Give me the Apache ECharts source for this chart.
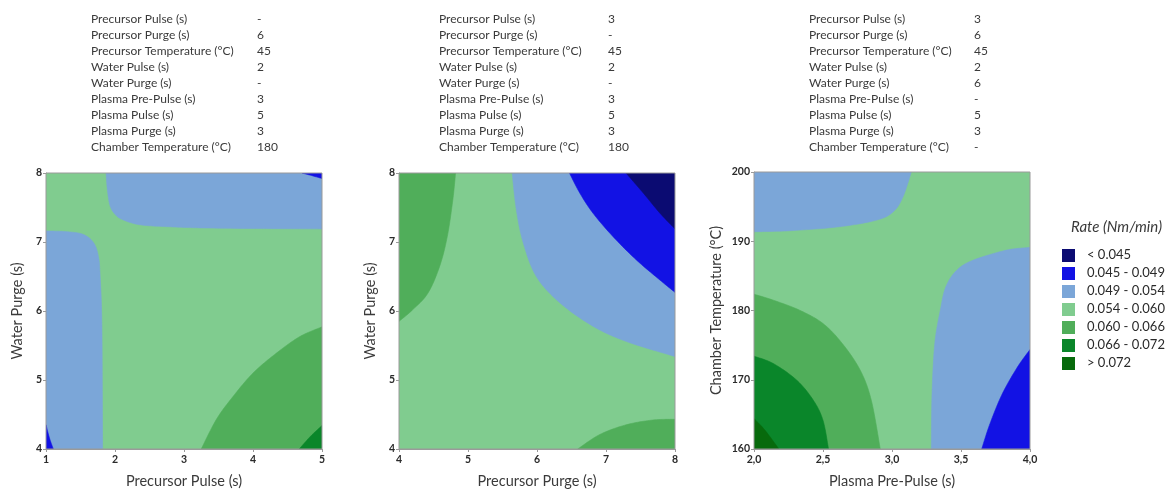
<!DOCTYPE html>
<html><head><meta charset="utf-8">
<script src="https://cdn.jsdelivr.net/npm/echarts@6/dist/echarts.min.js"></script>
<style>html,body{margin:0;padding:0;background:#fff}#c{width:1168px;height:489px}</style>
</head><body><div id="c"></div>
<script>
// ---------- data ----------
const levelLabels = ['< 0.045','0.045 - 0.049','0.049 - 0.054','0.054 - 0.060','0.060 - 0.066','0.066 - 0.072','> 0.072'];
const levelColors = ['#0b0b72','#1212e4','#7ba6d8','#80cc8f','#50ae5a','#0a862a','#076a0c'];
const legendTitle = 'Rate (Nm/min)';

const paramNames = ['Precursor Pulse (s)','Precursor Purge (s)','Precursor Temperature (°C)','Water Pulse (s)','Water Purge (s)','Plasma Pre-Pulse (s)','Plasma Pulse (s)','Plasma Purge (s)','Chamber Temperature (°C)'];
const fixedValues1 = ['-','6','45','2','-','3','5','3','180'];
const fixedValues2 = ['3','-','45','2','-','3','5','3','180'];
const fixedValues3 = ['3','6','45','2','6','-','5','3','-'];

const xNames = ['Precursor Pulse (s)','Precursor Purge (s)','Plasma Pre-Pulse (s)'];
const yNames = ['Water Purge (s)','Water Purge (s)','Chamber Temperature (°C)'];
const xTicks1 = ['1','2','3','4','5'];
const yTicks1 = ['4','5','6','7','8'];
const xTicks2 = ['4','5','6','7','8'];
const yTicks2 = ['4','5','6','7','8'];
const xTicks3 = ['2,0','2,5','3,0','3,5','4,0'];
const yTicks3 = ['160','170','180','190','200'];

// contour regions: level index, boundary curve (data coords), closing corners
const p1Base      = {level:3, curve:[], close:[[1,4],[5,4],[5,8],[1,8]]};
const p1TopBlue   = {level:2, curve:[[1.87,8],[1.89,7.75],[1.93,7.52],[2.01,7.39],[2.12,7.32],[2.36,7.25],[2.8,7.22],[3.5,7.2],[5,7.19]], close:[[5,8]]};
const p1TopBlue2  = {level:1, curve:[[4.71,8],[4.86,7.96],[5,7.92]], close:[[5,8]]};
const p1LeftBlue  = {level:2, curve:[[1,7.16],[1.3,7.15],[1.54,7.11],[1.69,6.99],[1.76,6.79],[1.785,6.5],[1.81,5.78],[1.82,4]], close:[[1,4]]};
const p1LeftBlue2 = {level:1, curve:[[1,4.35],[1.05,4.16],[1.106,4]], close:[[1,4]]};
const p1Green     = {level:4, curve:[[3.25,4],[3.47,4.43],[3.71,4.76],[4.0,5.1],[4.34,5.39],[4.68,5.63],[5,5.77]], close:[[5,4]]};
const p1Green2    = {level:5, curve:[[4.67,4],[4.83,4.18],[5,4.34]], close:[[5,4]]};

const p2Base      = {level:3, curve:[], close:[[4,4],[8,4],[8,8],[4,8]]};
const p2LeftGreen = {level:4, curve:[[4.82,8],[4.78,7.61],[4.7,7.08],[4.59,6.65],[4.42,6.26],[4.2,6.02],[4,5.85]], close:[[4,8]]};
const p2BrGreen   = {level:4, curve:[[6.59,4],[6.91,4.21],[7.29,4.35],[7.68,4.42],[8,4.43]], close:[[8,4]]};
const p2Blue      = {level:2, curve:[[5.64,8],[5.7,7.47],[5.8,6.99],[5.99,6.5],[6.33,6.12],[6.81,5.78],[7.29,5.56],[8,5.34]], close:[[8,8]]};
const p2Blue2     = {level:1, curve:[[6.47,8],[6.62,7.71],[6.81,7.42],[7.1,7.08],[7.44,6.74],[7.78,6.45],[8,6.27]], close:[[8,8]]};
const p2Navy      = {level:0, curve:[[7.29,8],[7.54,7.71],[7.78,7.42],[8,7.19]], close:[[8,8]]};

const p3Base      = {level:3, curve:[], close:[[2,160],[4,160],[4,200],[2,200]]};
const p3TopBlue   = {level:2, curve:[[2,191.37],[2.26,191.52],[2.62,192.1],[2.89,193.06],[3.01,194.27],[3.08,196.43],[3.14,200]], close:[[2,200]]};
const p3RightBlue = {level:2, curve:[[4,189.11],[3.83,188.72],[3.59,187.28],[3.47,185.83],[3.39,183.42],[3.35,180.05],[3.31,175.23],[3.29,168],[3.285,160]], close:[[4,160]]};
const p3RightBlue2= {level:1, curve:[[3.65,160],[3.71,163.66],[3.8,168],[3.91,171.86],[4,174.36]], close:[[4,160]]};
const p3Green     = {level:4, curve:[[2,182.36],[2.14,181.49],[2.33,180.05],[2.5,178.12],[2.64,175.23],[2.77,171.37],[2.85,167.04],[2.915,160]], close:[[2,160]]};
const p3Green2    = {level:5, curve:[[2,173.4],[2.14,172.34],[2.31,169.93],[2.43,167.04],[2.5,164.14],[2.54,160]], close:[[2,160]]};
const p3Green3    = {level:6, curve:[[2,164.39],[2.08,162.7],[2.18,160]], close:[[2,160]]};

const regions1 = [p1Base,p1TopBlue,p1TopBlue2,p1LeftBlue,p1LeftBlue2,p1Green,p1Green2];
const regions2 = [p2Base,p2LeftGreen,p2BrGreen,p2Blue,p2Blue2,p2Navy];
const regions3 = [p3Base,p3TopBlue,p3RightBlue,p3RightBlue2,p3Green,p3Green2,p3Green3];

const axisRanges = [
  {xmin:1,xmax:5,xint:1,ymin:4,ymax:8,yint:1,xt:xTicks1,yt:yTicks1},
  {xmin:4,xmax:8,xint:1,ymin:4,ymax:8,yint:1,xt:xTicks2,yt:yTicks2},
  {xmin:2,xmax:4,xint:0.5,ymin:160,ymax:200,yint:10,xt:xTicks3,yt:yTicks3}
];

// ---------- rendering ----------
const FONT = 'Lato';
function catmull(pts){
  if (pts.length < 3) return pts.slice();
  const out = [pts[0]];
  const n = 14;
  for (let i=0;i<pts.length-1;i++){
    const p0=pts[Math.max(i-1,0)], p1=pts[i], p2=pts[i+1], p3=pts[Math.min(i+2,pts.length-1)];
    const c1=[p1[0]+(p2[0]-p0[0])/6, p1[1]+(p2[1]-p0[1])/6];
    const c2=[p2[0]-(p3[0]-p1[0])/6, p2[1]-(p3[1]-p1[1])/6];
    for (let k=1;k<=n;k++){
      const t=k/n, u=1-t;
      out.push([
        u*u*u*p1[0]+3*u*u*t*c1[0]+3*u*t*t*c2[0]+t*t*t*p2[0],
        u*u*u*p1[1]+3*u*u*t*c1[1]+3*u*t*t*c2[1]+t*t*t*p2[1]
      ]);
    }
  }
  return out;
}
function makeRender(regions){
  return function(params, api){
    const r = regions[params.dataIndex];
    const cs = catmull(r.curve.map(p=>api.coord(p)));
    const ks = r.close.map(p=>api.coord(p));
    const pts = cs.concat(ks);
    const col = levelColors[r.level];
    return {type:'polygon', shape:{points:pts}, style:{fill:col, stroke:col, lineWidth:0.6}};
  };
}

const grids = [
  {left:46, top:173, width:276, height:276},
  {left:399, top:173, width:276, height:276},
  {left:754, top:172, width:276, height:277}
];
const yNameGaps = [21,21,30];

const option = {
  animation:false,
  grid: grids.map(g=>Object.assign({show:true, z:10, containLabel:false, outerBoundsMode:'none', borderColor:'#9a9a9a', borderWidth:1, backgroundColor:'rgba(0,0,0,0)'}, g)),
  xAxis: axisRanges.map((a,i)=>({
    type:'value', gridIndex:i, min:a.xmin, max:a.xmax, interval:a.xint,
    name:xNames[i], nameLocation:'middle', nameGap:25,
    nameTextStyle:{fontFamily:FONT, fontSize:14.5, color:'#3a3a3a'},
    splitLine:{show:false},
    axisLine:{show:true, lineStyle:{color:'#9a9a9a'}},
    axisTick:{show:true, length:3, lineStyle:{color:'#9a9a9a'}},
    axisLabel:{margin:5, fontFamily:FONT, fontSize:10.5, fontWeight:'bold', color:'#2a2a2a',
      formatter:(v)=>a.xt[Math.round((v-a.xmin)/a.xint)]}
  })),
  yAxis: axisRanges.map((a,i)=>({
    type:'value', gridIndex:i, min:a.ymin, max:a.ymax, interval:a.yint,
    name:yNames[i], nameLocation:'middle', nameGap:yNameGaps[i],
    nameTextStyle:{fontFamily:FONT, fontSize:14.5, color:'#3a3a3a'},
    splitLine:{show:false},
    axisLine:{show:true, lineStyle:{color:'#9a9a9a'}},
    axisTick:{show:true, length:3, lineStyle:{color:'#9a9a9a'}},
    axisLabel:{margin:4, fontFamily:FONT, fontSize:10.5, fontWeight:'bold', color:'#2a2a2a',
      formatter:(v)=>a.yt[Math.round((v-a.ymin)/a.yint)]}
  })),
  series: [regions1,regions2,regions3].map((regs,i)=>({
    type:'custom', xAxisIndex:i, yAxisIndex:i, clip:true, silent:true,
    renderItem: makeRender(regs),
    data: regs.map(r=>r.close[0])
  })),
  graphic: []
};

// parameter tables
const tableX = [[91,257],[439,608],[809,974]];
[fixedValues1,fixedValues2,fixedValues3].forEach((vals,t)=>{
  paramNames.forEach((nm,i)=>{
    option.graphic.push({type:'text', left:tableX[t][0], top:13.5+16*i, silent:true,
      style:{text:nm, font:'12px '+FONT, fill:'#3a3a3a'}});
    option.graphic.push({type:'text', left:tableX[t][1], top:13.5+16*i, silent:true,
      style:{text:vals[i], font:'12px '+FONT, fill:'#3a3a3a'}});
  });
});
// legend
option.graphic.push({type:'text', left:1071, top:220, silent:true,
  style:{text:legendTitle, font:'italic 15px '+FONT, fill:'#3a3a3a'}});
levelLabels.forEach((lab,i)=>{
  option.graphic.push({type:'rect', left:1062, top:249+18*i, silent:true,
    shape:{width:13, height:13}, style:{fill:levelColors[i]}});
  option.graphic.push({type:'text', left:1087, top:248.5+18*i, silent:true,
    style:{text:lab, font:'13px '+FONT, fill:'#2a2a2a'}});
});

const chart = echarts.init(document.getElementById('c'), null, {renderer:'canvas'});
chart.setOption(option);
</script></body></html>
